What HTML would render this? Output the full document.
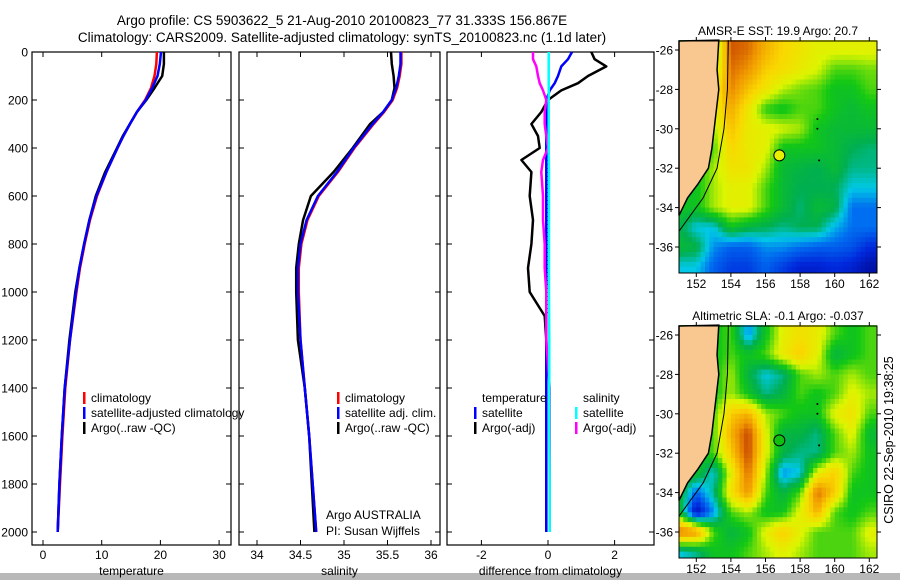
<!DOCTYPE html>
<html><head><meta charset="utf-8"><style>
html,body{margin:0;padding:0;background:#fff;width:900px;height:580px;overflow:hidden}
svg{display:block;font-family:"Liberation Sans",sans-serif}
text{fill:#000}
</style></head><body>
<svg id="fig" width="900" height="580" viewBox="0 0 900 580">
<rect x="0" y="573" width="900" height="7" fill="#b8b8b8"/>
<text x="342" y="25" font-size="13.5" text-anchor="middle">Argo profile: CS 5903622_5 21-Aug-2010 20100823_77 31.333S 156.867E</text>
<text x="342" y="42" font-size="13.5" text-anchor="middle">Climatology: CARS2009. Satellite-adjusted climatology: synTS_20100823.nc (1.1d later)</text>
</svg>
<script>
// ---- profile data ----
const depths=[0,50,100,150,200,250,300,350,400,500,600,700,800,900,1000,1200,1400,1600,1800,2000];
const tempArgo=[20.6,20.6,20.3,19.0,17.6,16.0,14.8,13.6,12.6,10.6,9.0,7.9,7.0,6.2,5.5,4.5,3.7,3.2,2.8,2.5];
const tempClim=[19.4,19.3,19.0,18.4,17.4,16.0,14.8,13.7,12.7,10.8,9.2,8.0,7.1,6.3,5.7,4.6,3.8,3.3,2.9,2.5];
const tempSat=[20.1,19.9,19.5,18.6,17.5,16.0,14.8,13.7,12.7,10.8,9.1,7.9,7.0,6.2,5.6,4.6,3.7,3.2,2.8,2.5];
const salArgo=[35.54,35.55,35.57,35.58,35.55,35.45,35.3,35.2,35.1,34.88,34.62,34.53,34.48,34.45,34.45,34.47,34.55,34.6,34.63,34.66];
const salClim=[35.66,35.66,35.64,35.61,35.56,35.46,35.34,35.23,35.12,34.93,34.71,34.58,34.51,34.48,34.48,34.5,34.55,34.6,34.64,34.68];
const salSat=[35.65,35.65,35.63,35.6,35.55,35.45,35.33,35.22,35.11,34.92,34.7,34.57,34.5,34.47,34.47,34.5,34.55,34.6,34.64,34.68];
const diffDepths=[0,30,60,100,130,160,200,250,300,350,400,450,500,600,700,800,900,1000,1100,1200,1400,1600,1800,2000];
const tDiffArgo=[1.3,1.4,1.75,1.2,0.9,0.4,0.0,-0.2,-0.5,-0.3,-0.25,-0.8,-0.5,-0.55,-0.45,-0.5,-0.6,-0.55,-0.1,-0.05,-0.05,-0.05,-0.05,-0.05];
const tDiffSat=[0.72,0.6,0.4,0.3,0.2,0.05,-0.05,-0.05,-0.05,-0.05,-0.05,-0.05,-0.05,-0.05,-0.05,-0.05,-0.05,-0.05,-0.05,-0.05,-0.05,-0.05,-0.05,-0.05];
const sDiffArgo=[-0.45,-0.45,-0.35,-0.3,-0.25,-0.15,-0.05,-0.1,-0.1,-0.05,0,-0.15,-0.2,-0.15,-0.15,-0.1,-0.1,-0.05,-0.05,-0.05,0.05,0.05,0.05,0.05];
const sDiffSat=[0.02,0.02,0.02,0.02,0.02,0.02,0.02,0.02,0.02,0.03,0.03,0.03,0.03,0.03,0.03,0.04,0.04,0.04,0.05,0.05];
const depthTicks=[0,200,400,600,800,1000,1200,1400,1600,1800,2000];
const tempTicks=[0,10,20,30];
const salTicks=[34,34.5,35,35.5,36];
const diffTicks=[-2,0,2];
const latTicks=[-26,-28,-30,-32,-34,-36];
const lonTicks=[152,154,156,158,160,162];
// ---- map fields (value 0..1 colour index, null = land), rows lat -26..-37, cols lon 151..162 ----
const sstGrid=[
[null,null,null,.88,.85,.75,.68,.64,.6,.6,.6,.6],
[null,null,.5,.85,.8,.7,.66,.62,.58,.5,.5,.52],
[null,null,.6,.82,.72,.64,.56,.52,.5,.45,.45,.5],
[null,null,.6,.76,.64,.48,.45,.5,.5,.45,.42,.45],
[null,null,.55,.72,.62,.6,.58,.55,.45,.42,.42,.42],
[null,null,.5,.68,.62,.6,.45,.45,.45,.42,.38,.36],
[null,.45,.55,.64,.64,.55,.42,.40,.38,.42,.35,.35],
[null,.45,.55,.6,.6,.5,.42,.38,.38,.38,.3,.3],
[.45,.45,.55,.6,.6,.5,.42,.36,.42,.40,.22,.22],
[.4,.3,.3,.45,.4,.38,.35,.38,.38,.28,.22,.22],
[.42,.4,.25,.2,.2,.25,.25,.22,.2,.2,.18,.12],
[.3,.3,.2,.15,.15,.2,.15,.1,.1,.12,.1,.05]];
const slaGrid=[
[null,null,null,.5,.25,.45,.6,.65,.62,.5,.45,.5],
[null,null,null,.5,.45,.5,.62,.7,.6,.4,.45,.5],
[null,null,.45,.55,.4,.3,.35,.5,.55,.5,.55,.5],
[null,null,.45,.55,.45,.35,.4,.5,.45,.5,.6,.55],
[null,null,.5,.7,.75,.55,.5,.45,.45,.6,.65,.5],
[null,null,.5,.75,.9,.6,.4,.4,.35,.5,.6,.42],
[null,.45,.5,.7,.9,.6,.4,.35,.35,.5,.55,.45],
[null,.45,.3,.6,.85,.55,.25,.3,.6,.7,.5,.45],
[.45,.2,.35,.65,.8,.5,.4,.5,.85,.7,.45,.45],
[.45,.05,.25,.5,.55,.45,.45,.6,.75,.5,.45,.5],
[.85,.8,.5,.4,.45,.6,.7,.6,.5,.5,.5,.6],
[.3,.35,.45,.45,.5,.55,.6,.55,.5,.5,.5,.55]];

const NS='http://www.w3.org/2000/svg';
const svg=document.getElementById('fig');
function el(tag,attrs,parent){const e=document.createElementNS(NS,tag);for(const k in attrs)e.setAttribute(k,attrs[k]);(parent||svg).appendChild(e);return e;}
function txt(x,y,s,size,anchor,parent){const t=el('text',{x:x,y:y,'font-size':size,'text-anchor':anchor||'middle'},parent);t.textContent=s;return t;}

const Y0=52,Y1=545;
const yD=d=>Y0+d*0.24;

function panel(name,x0,x1,xs,xticks,xlabel,showY){
  const g=el('g',{});
  
  
  const fr=el('rect',{x:x0,y:Y0,width:x1-x0,height:Y1-Y0,fill:'none',stroke:'#000','stroke-width':1.2},g);
  
  
  depthTicks.forEach(d=>{
    const y=yD(d);
    el('line',{x1:x0,x2:x0+5,y1:y,y2:y,stroke:'#000'},g);
    el('line',{x1:x1-5,x2:x1,y1:y,y2:y,stroke:'#000'},g);
    if(showY){const t=txt(x0-4,y+4.5,String(d),12,'end',g);
      
      }
  });
  xticks.forEach(v=>{
    const x=xs(v);
    el('line',{x1:x,x2:x,y1:Y1,y2:Y1-5,stroke:'#000'},g);
    el('line',{x1:x,x2:x,y1:Y0,y2:Y0+5,stroke:'#000'},g);
    const t=txt(x,559,String(v),12,'middle',g);
    
    
  });
  const xl=txt((x0+x1)/2,575,xlabel,12,'middle',g);
  
  
  return g;
}
function line(g,xs,ds,vals,color,w,name,dash){
  const pts=vals.map((v,i)=>xs(v).toFixed(1)+','+yD(ds[i]).toFixed(1)).join(' ');
  const p=el('polyline',{points:pts,fill:'none',stroke:color,'stroke-width':w,'stroke-linejoin':'round'},g);
  if(dash)p.setAttribute('stroke-dasharray',dash);
  
  
}
function legend(g,x,y,items){
  items.forEach((it,i)=>{
    const yy=y+i*15;
    el('rect',{x:x,y:yy-10,width:2.5,height:12,fill:it[1]},g);
    const t=txt(x+8,yy,it[0],12,'start',g);
    
    
  });
}

// temperature
const xT=v=>43+v*5.87;
const gT=panel('temperature',32,231,xT,tempTicks,'temperature',true);
line(gT,xT,depths,tempClim,'#ff0000',2.5,'temp-climatology-line');
line(gT,xT,depths,tempArgo,'#000',2.5,'temp-argo-line');
line(gT,xT,depths,tempSat,'#0000ff',2.5,'temp-satellite-line');
legend(gT,83,402,[['climatology','#f00'],['satellite-adjusted climatology','#00f'],['Argo(..raw -QC)','#000']]);

// salinity
const xS=v=>257+(v-34)*87;
const gS=panel('salinity',239,440,xS,salTicks,'salinity',false);
line(gS,xS,depths,salClim,'#ff0000',2.5,'sal-climatology-line');
line(gS,xS,depths,salArgo,'#000',2.5,'sal-argo-line');
line(gS,xS,depths,salSat,'#0000ff',2.5,'sal-satellite-line');
legend(gS,337,402,[['climatology','#f00'],['satellite adj. clim.','#00f'],['Argo(..raw -QC)','#000']]);
txt(326,519,'Argo AUSTRALIA',12,'start',gS);
txt(326,535,'PI: Susan Wijffels',12,'start',gS);

// difference
const xDf=v=>548+v*33.3;
const gD=panel('difference',447,654,xDf,diffTicks,'difference from climatology',false);
el('line',{x1:548,x2:548,y1:yD(350),y2:yD(1100),stroke:'#000','stroke-dasharray':'1,3'},gD);
line(gD,xDf,diffDepths,tDiffArgo,'#000',2.5,'temp-diff-argo-line');
line(gD,xDf,diffDepths,tDiffSat,'#0000ff',2.5,'temp-diff-satellite-line');
line(gD,xDf,diffDepths,sDiffArgo,'#ff00ff',2.5,'sal-diff-argo-line');
line(gD,xDf,depths,sDiffSat,'#00ffff',2.5,'sal-diff-satellite-line');
txt(482,402,'temperature',12,'start',gD);
txt(583,402,'salinity',12,'start',gD);
legend(gD,474,417,[['satellite','#00f'],['Argo(-adj)','#000']]);
legend(gD,575,417,[['satellite','#0ff'],['Argo(-adj)','#f0f']]);

// ---- maps ----
const stops=[[0,[0,0,130]],[0.12,[0,40,220]],[0.22,[0,110,240]],[0.3,[0,200,230]],[0.38,[0,175,80]],[0.47,[20,200,20]],[0.58,[220,245,0]],[0.68,[250,215,0]],[0.8,[240,150,0]],[0.9,[200,70,0]],[1,[150,20,0]]];
function cmap(v){v=Math.max(0,Math.min(1,v));for(let i=1;i<stops.length;i++){if(v<=stops[i][0]){const a=stops[i-1],b=stops[i],t=(v-a[0])/(b[0]-a[0]);const c=a[1].map((q,k)=>Math.round(q+(b[1][k]-q)*t));return 'rgb('+c.join(',')+')';}}return 'rgb(150,20,0)';}
function sample(grid,lon,lat){
  const c=lon-151,r=(-26)-lat;
  const c0=Math.max(0,Math.min(10,Math.floor(c))),r0=Math.max(0,Math.min(10,Math.floor(r)));
  const fc=Math.max(0,Math.min(1,c-c0)),fr=Math.max(0,Math.min(1,r-r0));
  const g=(i,j)=>{let v=grid[i][j];if(v===null)v=0.45;return v;};
  return g(r0,c0)*(1-fc)*(1-fr)+g(r0,c0+1)*fc*(1-fr)+g(r0+1,c0)*(1-fc)*fr+g(r0+1,c0+1)*fc*fr;
}
function map(name,title,grid,top,markerFill){
  const X0=679,X1=877,Yt=top,Yb=top+232;
  const lx=lon=>X0+(lon-151)*17.3, ly=lat=>Yt+9+(-26-lat)*19.7;
  const g=el('g',{});
  
  
  const tt=txt((X0+X1)/2,Yt-6,title,12,'middle',g);
  
  
  const step=0.25;
  for(let lat=-25.5;lat>-37.3;lat-=step){
    for(let lon=151;lon<162.5;lon+=step){
      const x=lx(lon),y=ly(lat);
      const w=Math.min(step*17.3+0.6,X1-x), h=Math.min(step*19.7+0.6,Yb-y);
      if(w<=0||h<=0)continue;
      el('rect',{x:x.toFixed(1),y:y.toFixed(1),width:w.toFixed(1),height:h.toFixed(1),fill:cmap(sample(grid,lon+step/2,lat-step/2))},g);
    }
  }
  const coast=[[153.3,-25.5],[153.2,-27],[153.3,-28],[153.1,-29.5],[152.9,-31],[152.7,-32],[152.1,-32.8],[151.5,-33.5],[151.0,-34.4]];
  const landPts=coast.map(p=>lx(p[0])+','+ly(p[1])).join(' ')+' '+lx(151)+','+ly(-34.4)+' '+X0+','+Yt;
  const land=el('polygon',{points:landPts,fill:'#f8c890',stroke:'#000','stroke-width':1.5},g);
  
  
  const shelf=[[153.85,-25.5],[153.8,-28],[153.6,-30],[153.2,-32],[152.4,-33.5],[151.0,-35.2]];
  el('polyline',{points:shelf.map(p=>lx(p[0])+','+ly(p[1])).join(' '),fill:'none',stroke:'#000','stroke-width':1},g);
  [[159,-29.5],[159,-30],[159.1,-31.6]].forEach(p=>el('circle',{cx:lx(p[0]),cy:ly(p[1]),r:1,fill:'#000'},g));
  const m=el('circle',{cx:lx(156.8),cy:ly(-31.35),r:5.5,fill:markerFill,stroke:'#000','stroke-width':1},g);
  
  
  el('rect',{x:X0,y:Yt,width:X1-X0,height:Yb-Yt,fill:'none',stroke:'#000','stroke-width':1},g);
  latTicks.forEach(l=>{const y=ly(l);el('line',{x1:X0-4,x2:X0,y1:y,y2:y,stroke:'#000'},g);el('line',{x1:X1,x2:X1+4,y1:y,y2:y,stroke:'#000'},g);
    const t=txt(X0-6,y+4.5,String(l),12,'end',g);
    
    });
  lonTicks.forEach(l=>{const x=lx(l);el('line',{x1:x,x2:x,y1:Yb,y2:Yb+4,stroke:'#000'},g);el('line',{x1:x,x2:x,y1:Yt-4,y2:Yt,stroke:'#000'},g);
    const t=txt(x,Yb+15,String(l),12,'middle',g);
    
    });
}
map('sst','AMSR-E SST: 19.9 Argo: 20.7',sstGrid,41,'#e8f000');
map('sla','Altimetric SLA: -0.1 Argo: -0.037',slaGrid,326,'#10c010');
const ts=txt(0,0,'CSIRO 22-Sep-2010 19:38:25',12.5,'middle');
ts.setAttribute('transform','translate(893,440) rotate(-90)');


</script>
</body></html>
